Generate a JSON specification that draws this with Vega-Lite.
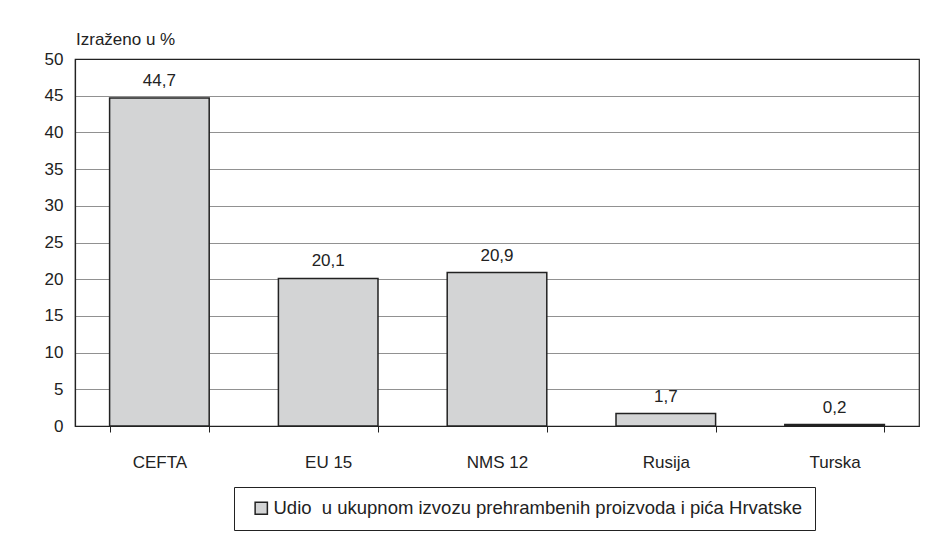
{
  "$schema": "https://vega.github.io/schema/vega-lite/v6.json",
  "width": 844,
  "height": 367,
  "autosize": {"type": "none"},
  "padding": {"left": 75, "top": 59, "right": 23, "bottom": 117},
  "background": "white",
  "title": {
    "text": "Izraženo u %",
    "anchor": "start",
    "frame": "group",
    "offset": 1,
    "fontSize": 17,
    "fontWeight": "normal",
    "font": "Liberation Sans",
    "color": "#222222",
    "dx": 1
  },
  "data": {
    "values": [
      {"regija": "CEFTA", "udio": 44.7, "serija": "Udio\u00a0 u ukupnom izvozu prehrambenih proizvoda i pića Hrvatske"},
      {"regija": "EU 15", "udio": 20.1, "serija": "Udio\u00a0 u ukupnom izvozu prehrambenih proizvoda i pića Hrvatske"},
      {"regija": "NMS 12", "udio": 20.9, "serija": "Udio\u00a0 u ukupnom izvozu prehrambenih proizvoda i pića Hrvatske"},
      {"regija": "Rusija", "udio": 1.7, "serija": "Udio\u00a0 u ukupnom izvozu prehrambenih proizvoda i pića Hrvatske"},
      {"regija": "Turska", "udio": 0.2, "serija": "Udio\u00a0 u ukupnom izvozu prehrambenih proizvoda i pića Hrvatske"}
    ]
  },
  "encoding": {
    "x": {
      "field": "regija",
      "type": "nominal",
      "sort": null,
      "scale": {"paddingInner": 0.41, "paddingOuter": 0.205},
      "axis": {
        "title": null,
        "labelAngle": 0,
        "tickBand": "extent",
        "ticks": true,
        "tickSize": 6,
        "tickColor": "#222222",
        "domainColor": "#222222",
        "domainWidth": 1.2,
        "labelPadding": 22,
        "labelFontSize": 17,
        "labelFont": "Liberation Sans",
        "labelColor": "#222222",
        "grid": false
      }
    },
    "y": {
      "field": "udio",
      "type": "quantitative",
      "scale": {"domain": [0, 50], "nice": false},
      "axis": {
        "title": null,
        "values": [0, 5, 10, 15, 20, 25, 30, 35, 40, 45, 50],
        "ticks": false,
        "labelPadding": 12,
        "labelFontSize": 17,
        "labelFont": "Liberation Sans",
        "labelColor": "#222222",
        "domainColor": "#222222",
        "domainWidth": 1.2,
        "grid": true,
        "gridColor": "#222222",
        "gridDash": [1, 1],
        "gridWidth": 1
      }
    }
  },
  "layer": [
    {
      "mark": {"type": "bar", "stroke": "#222222", "strokeWidth": 1.5},
      "encoding": {
        "color": {
          "field": "serija",
          "type": "nominal",
          "scale": {"range": ["#d3d4d5"]},
          "legend": {
            "title": null,
            "orient": "none",
            "legendX": 159,
            "legendY": 428,
            "strokeColor": "#222222",
            "padding": 12,
            "symbolType": "square",
            "symbolSize": 150,
            "symbolStrokeColor": "#222222",
            "symbolStrokeWidth": 1.5,
            "symbolOffset": 6,
            "labelFontSize": 18.5,
            "labelFont": "Liberation Sans",
            "labelColor": "#222222",
            "labelLimit": 900,
            "labelOffset": 3
          }
        }
      }
    },
    {
      "mark": {"type": "text", "baseline": "bottom", "dy": -8, "fontSize": 17, "font": "Liberation Sans", "color": "#222222"},
      "encoding": {
        "text": {"field": "udio", "type": "quantitative", "format": ".1f"}
      }
    }
  ],
  "config": {
    "locale": {
      "number": {"decimal": ",", "thousands": ".", "grouping": [3], "currency": ["", " €"]}
    },
    "view": {"stroke": "#222222", "strokeWidth": 1.2}
  }
}
